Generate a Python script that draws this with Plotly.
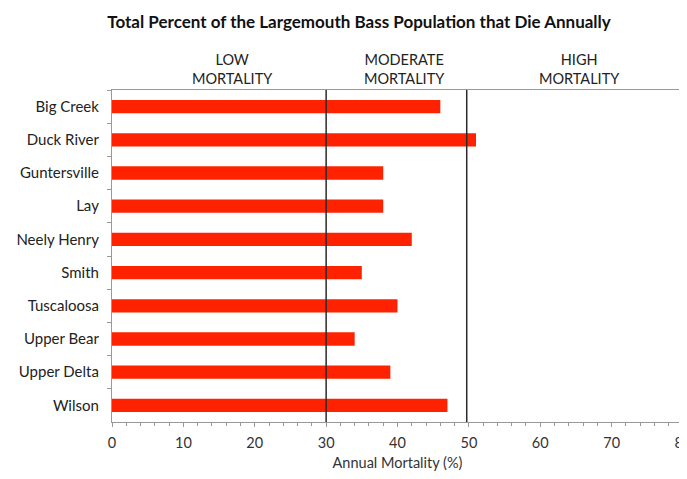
import plotly.graph_objects as go

lakes = ["Big Creek", "Duck River", "Guntersville", "Lay", "Neely Henry",
         "Smith", "Tuscaloosa", "Upper Bear", "Upper Delta", "Wilson"]
mortality = [46, 51, 38, 38, 42, 35, 40, 34, 39, 47]

# class limits and region labels
limits = [30, 49.7]
region_x = [16.9, 41, 65.5]
region_text = ["LOW<br>MORTALITY", "MODERATE<br>MORTALITY", "HIGH<br>MORTALITY"]

fig = go.Figure()

fig.add_trace(go.Bar(
    x=mortality,
    y=lakes,
    orientation='h',
    marker=dict(color='#ff2200', line=dict(width=0)),
    showlegend=False
))

for v in limits:
    fig.add_shape(type='line', x0=v, x1=v, y0=0, y1=1, yref='paper',
                  line=dict(color='#2a2a2a', width=1.5))

for xv, t in zip(region_x, region_text):
    fig.add_annotation(x=xv, y=1, yref='paper', yanchor='bottom', yshift=1,
                       text=t, showarrow=False,
                       font=dict(size=14.5, color='#222222'))

# page body has an 8px margin, so the figure is sized to the visible area
fig.update_layout(
    title=dict(text="<b>Total Percent of the Largemouth Bass Population that Die Annually</b>",
               x=0.517, xanchor='center', y=1 - 14 / 471, yanchor='middle',
               font=dict(size=17, color='#111111')),
    width=679, height=471,
    margin=dict(l=104, r=4, t=82, b=57),
    bargap=0.6,
    plot_bgcolor='white',
    paper_bgcolor='white',
    font=dict(family="Lato, Liberation Sans, sans-serif", size=14, color='#333333'),
    xaxis=dict(
        range=[0, 80], dtick=10, showgrid=False, zeroline=False,
        showline=True, linecolor='#999999', linewidth=1.2, mirror=True,
        ticks='outside', ticklen=4, tickcolor='#999999',
        minor=dict(dtick=2, ticks='outside', ticklen=3, tickcolor='#999999'),
        title=dict(text="Annual Mortality (%)", font=dict(size=14.5), standoff=8),
        tickfont=dict(size=14.5), ticklabelstandoff=3,
        ticklabeloverflow='allow', automargin=False
    ),
    yaxis=dict(
        autorange='reversed', showgrid=False, zeroline=False,
        showline=True, linecolor='#999999', linewidth=1.2, mirror=True,
        ticks='outside', ticklen=4, tickcolor='#999999', tickson='boundaries',
        tickfont=dict(size=15, color='#222222'), ticklabelstandoff=9,
        automargin=False
    )
)

fig.write_html("out.html")
